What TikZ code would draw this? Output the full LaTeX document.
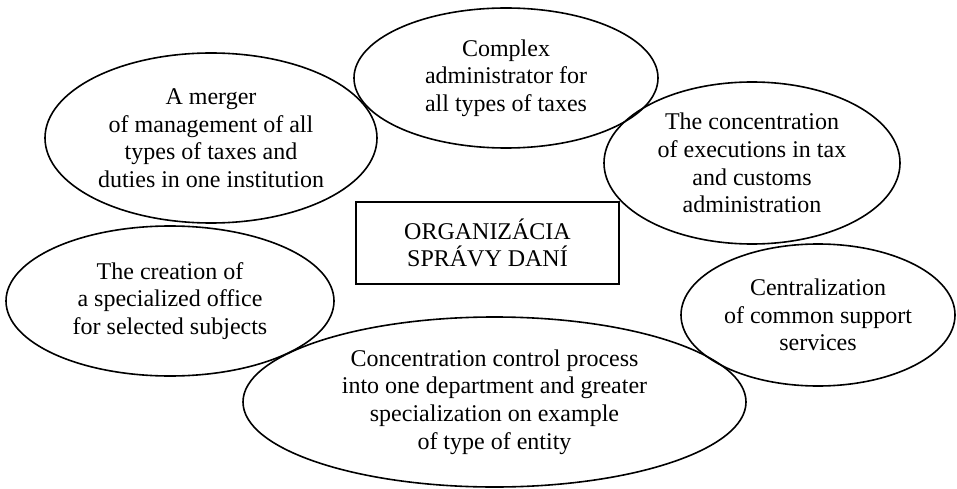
\documentclass[tikz,border=0pt]{standalone}
\usepackage{fontspec}
\setmainfont{Liberation Serif}
\usetikzlibrary{shapes.geometric}
\tikzset{
  oval/.style={ellipse, draw, line width=1.6pt, inner sep=0pt, align=center,
    font=\fontsize{24}{27.6}\selectfont},
  titlebox/.style={rectangle, draw, line width=1.6pt, inner sep=0pt, align=center,
    font=\fontsize{24}{27.6}\selectfont}
}
\begin{document}
\begin{tikzpicture}[x=1pt,y=-1pt]
  \useasboundingbox (0,0) rectangle (957,489);
  % central title
  \node[titlebox, minimum width=263pt, minimum height=82pt] (core) at (487.5,243)
    {ORGANIZÁCIA\\SPRÁVY DANÍ};
  % surrounding ellipses
  \node[oval, minimum width=304pt, minimum height=140pt] (complex) at (506,78)
    {Complex\\administrator for\\all types of taxes};
  \node[oval, minimum width=332pt, minimum height=170pt] (merger) at (211,138)
    {A merger\\of management of all\\types of taxes and\\duties in one institution};
  \node[oval, minimum width=296pt, minimum height=162pt] (exec) at (752,163)
    {The concentration\\of executions in tax\\and customs\\administration};
  \node[oval, minimum width=328pt, minimum height=150pt] (office) at (170,301)
    {The creation of\\a specialized office\\for selected subjects};
  \node[oval, minimum width=274pt, minimum height=142pt] (support) at (818,315)
    {Centralization\\of common support\\services};
  \node[oval, minimum width=503pt, minimum height=170pt] (control) at (494.5,402)
    {Concentration control process\\into one department and greater\\specialization on example\\of type of entity};
\end{tikzpicture}
\end{document}
